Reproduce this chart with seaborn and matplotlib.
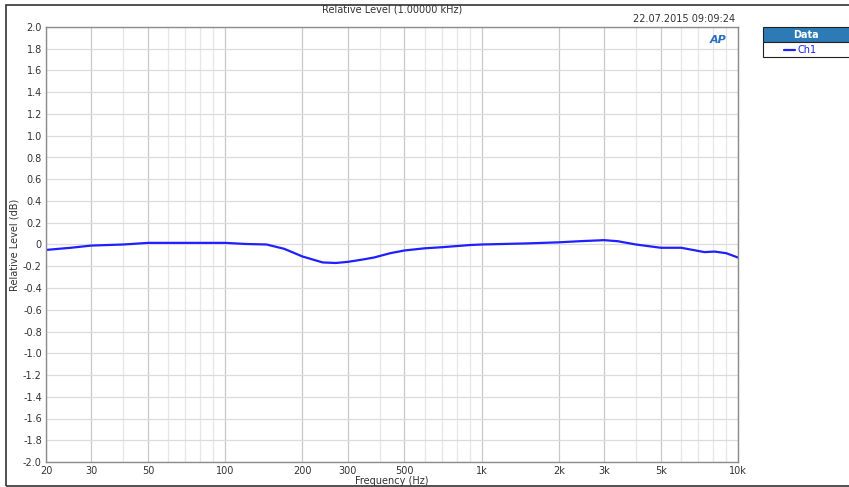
import numpy as np
import pandas as pd
import matplotlib
matplotlib.use("Agg")
import matplotlib.pyplot as plt
import seaborn as sns
from matplotlib.patches import Rectangle
from matplotlib.lines import Line2D

freq = [20, 25, 30, 40, 50, 70, 100, 120, 145, 170, 200, 240, 270, 300, 340, 380,
        440, 500, 600, 700, 900, 1000, 1500, 2000, 2400, 3000, 3400, 4000, 5000,
        6000, 7400, 8100, 9000, 10000]
level = [-0.05, -0.03, -0.01, 0.0, 0.015, 0.015, 0.015, 0.005, 0.0, -0.04, -0.11,
         -0.165, -0.17, -0.16, -0.14, -0.12, -0.08, -0.055, -0.035, -0.025, -0.005,
         0.0, 0.01, 0.02, 0.03, 0.04, 0.03, 0.0, -0.03, -0.03, -0.07, -0.065, -0.08,
         -0.12]

xticks = [20, 30, 50, 100, 200, 300, 500, 1000, 2000, 3000, 5000, 10000]
xlabels = ["20", "30", "50", "100", "200", "300", "500", "1k", "2k", "3k", "5k", "10k"]
xminor = [40, 60, 70, 80, 90, 400, 600, 700, 800, 900, 4000, 6000, 7000, 8000, 9000]
yticks = np.round(np.arange(-2.0, 2.01, 0.2), 1)

df = pd.DataFrame({"freq": freq, "level": level})

sns.set_style("white")
plt.rcParams["font.family"] = ["DejaVu Sans"]

fig = plt.figure(figsize=(8.49, 4.87), dpi=100)
ax = fig.add_axes([46 / 849, 1 - 462 / 487, 692 / 849, 435 / 487])

sns.lineplot(data=df, x="freq", y="level", color="#1f1fff", linewidth=1.6, ax=ax)

ax.set_xscale("log")
ax.set_xlim(20, 10000)
ax.set_ylim(-2.0, 2.0)
ax.set_xticks(xticks)
ax.set_xticklabels(xlabels)
ax.set_xticks(xminor, minor=True)
ax.set_xticklabels([], minor=True)
ax.set_yticks(yticks)
ax.set_yticklabels(["%.1f" % v if abs(v) > 1e-9 else "0" for v in yticks])

ax.grid(True, which="major", axis="x", color="#c8c8c8", linewidth=0.9)
ax.grid(True, which="minor", axis="x", color="#e6e6e6", linewidth=0.9)
ax.grid(True, which="major", axis="y", color="#dcdcdc", linewidth=0.9)
ax.set_axisbelow(True)
ax.tick_params(axis="both", which="both", length=0, labelsize=7, colors="#333333", pad=3)
for s in ax.spines.values():
    s.set_color("#8c8c8c")
    s.set_linewidth(1.0)

ax.set_xlabel("Frequency (Hz)", fontsize=7, color="#333333")
ax.set_ylabel("Relative Level (dB)", fontsize=7, color="#333333",
              family=["Liberation Sans Narrow", "DejaVu Sans"])
ax.xaxis.set_label_coords(0.5, -0.033)
ax.yaxis.set_label_coords(-0.038, 0.5)

fig.text(392 / 849, 1 - 10 / 487, "Relative Level (1.00000 kHz)", ha="center", va="center",
         fontsize=7, color="#333333")
fig.text(735 / 849, 1 - 19 / 487, "22.07.2015 09:09:24", ha="right", va="center",
         fontsize=7, color="#333333")
fig.text(718 / 849, 1 - 40 / 487, "AP", ha="center", va="center", fontsize=8,
         fontweight="bold", style="italic", color="#2a6fc0")

# outer border
fig.patches.append(Rectangle((6 / 849, 1 / 487), 850 / 849, 481 / 487, transform=fig.transFigure,
                             fill=False, edgecolor="#333333", linewidth=1.2))

# legend box
fig.patches.append(Rectangle((763 / 849, 1 - 42 / 487), 90 / 849, 15 / 487,
                             transform=fig.transFigure, facecolor="#2d7bb6",
                             edgecolor="#222222", linewidth=0.8))
fig.patches.append(Rectangle((763 / 849, 1 - 57 / 487), 90 / 849, 15 / 487,
                             transform=fig.transFigure, facecolor="white",
                             edgecolor="#222222", linewidth=0.8))
fig.text(806 / 849, 1 - 35 / 487, "Data", ha="center", va="center", fontsize=7,
         fontweight="bold", color="white")
fig.lines.append(Line2D([784 / 849, 795 / 849], [1 - 50 / 487, 1 - 50 / 487],
                        transform=fig.transFigure, color="#1f1fff", linewidth=1.6))
fig.text(798 / 849, 1 - 50 / 487, "Ch1", ha="left", va="center", fontsize=7,
         color="#1f1fff")

fig.savefig("out.png", dpi=100)
